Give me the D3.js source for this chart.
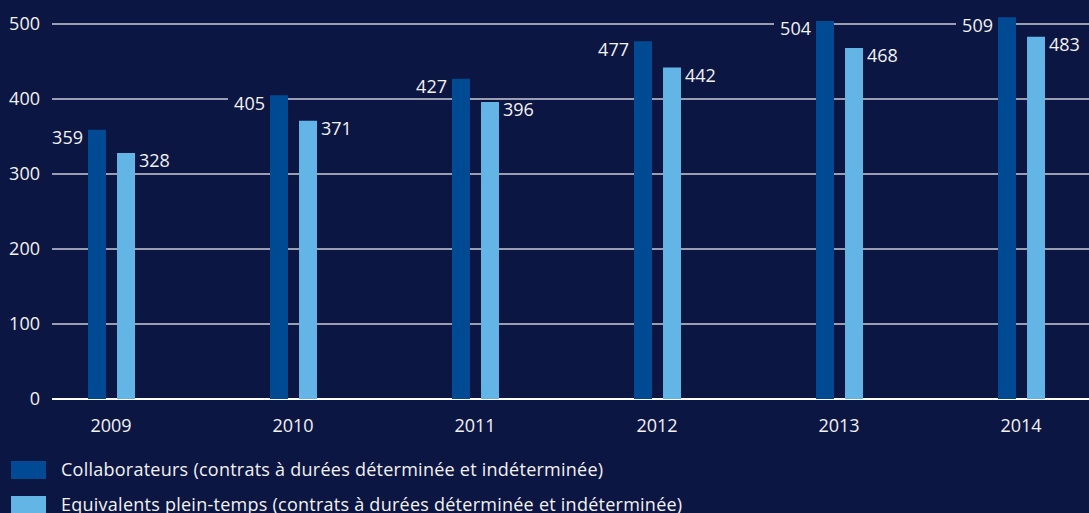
<!DOCTYPE html>
<html>
<head>
<meta charset="utf-8">
<script src="https://cdn.jsdelivr.net/npm/d3@7"></script>
<style>
  body { margin: 0; background: #0c1642; }
  svg { display: block; }
  text { font-family: 'Open Sans', sans-serif; fill: #f2f2f2; }
</style>
</head>
<body>
<script>
var years = ['2009', '2010', '2011', '2012', '2013', '2014'];
var collaborateurs = [359, 405, 427, 477, 504, 509];
var equivalents = [328, 371, 396, 442, 468, 483];
var seriesNames = [
  'Collaborateurs (contrats à durées déterminée et indéterminée)',
  'Equivalents plein-temps (contrats à durées déterminée et indéterminée)'
];
var yTicks = [0, 100, 200, 300, 400, 500];

var w = 1089;
var h = 513;
var bg = '#0c1642';
var colours = ['#004a94', '#62b5e5'];
var fs = '18px';

var svg = d3.select('body')
  .append('svg')
  .attr('width', w)
  .attr('height', h);

var xScale = d3.scaleBand()
  .domain(years)
  .range([20, 1112]);

var xSub = d3.scaleBand()
  .domain([0, 1])
  .range([-23, 24])
  .paddingInner(0.38);

var yScale = d3.scaleLinear()
  .domain([0, 500])
  .range([399, 24]);

// grid lines
svg.selectAll('line.grid')
  .data(yTicks)
  .enter()
  .append('line')
  .attr('class', 'grid')
  .attr('x1', 52)
  .attr('x2', w)
  .attr('y1', function(d){ return yScale(d); })
  .attr('y2', function(d){ return yScale(d); })
  .attr('stroke', function(d){ return d === 0 ? '#ffffff' : '#c9ccd8'; })
  .attr('stroke-width', function(d){ return d === 0 ? 2 : 1.3; });

// y tick labels
svg.selectAll('text.ytick')
  .data(yTicks)
  .enter()
  .append('text')
  .attr('class', 'ytick')
  .attr('x', 40)
  .attr('y', function(d){ return yScale(d); })
  .attr('dy', '0.36em')
  .attr('text-anchor', 'end')
  .attr('font-size', fs)
  .text(function(d){ return d; });

var rows = years.map(function(y, i){
  return [
    {year: y, s: 0, value: collaborateurs[i]},
    {year: y, s: 1, value: equivalents[i]}
  ];
});

var groups = svg.selectAll('g.year')
  .data(rows)
  .enter()
  .append('g')
  .attr('class', 'year')
  .attr('transform', function(d){
    return 'translate(' + (xScale(d[0].year) + xScale.bandwidth() / 2) + ',0)';
  });

// value label backgrounds (hide the grid behind the numbers)
groups.selectAll('rect.labbg')
  .data(function(d){ return d; })
  .enter()
  .append('rect')
  .attr('class', 'labbg')
  .attr('x', function(d){ return d.s === 0 ? xSub(0) - 42 : xSub(1) + xSub.bandwidth(); })
  .attr('y', function(d){ return yScale(d.value) - 2; })
  .attr('width', 42)
  .attr('height', 20)
  .attr('fill', bg);

groups.selectAll('rect.bar')
  .data(function(d){ return d; })
  .enter()
  .append('rect')
  .attr('class', 'bar')
  .attr('x', function(d){ return xSub(d.s); })
  .attr('y', function(d){ return yScale(d.value); })
  .attr('width', xSub.bandwidth())
  .attr('height', function(d){ return yScale(0) - yScale(d.value); })
  .attr('fill', function(d){ return colours[d.s]; });

groups.selectAll('text.val')
  .data(function(d){ return d; })
  .enter()
  .append('text')
  .attr('class', 'val')
  .attr('x', function(d){ return d.s === 0 ? xSub(0) - 5 : xSub(1) + xSub.bandwidth() + 4; })
  .attr('y', function(d){ return yScale(d.value) + 8; })
  .attr('dy', '0.36em')
  .attr('text-anchor', function(d){ return d.s === 0 ? 'end' : 'start'; })
  .attr('font-size', fs)
  .text(function(d){ return d.value; });

// x axis labels
svg.selectAll('text.xtick')
  .data(years)
  .enter()
  .append('text')
  .attr('class', 'xtick')
  .attr('x', function(d){ return xScale(d) + xScale.bandwidth() / 2; })
  .attr('y', 426)
  .attr('dy', '0.36em')
  .attr('text-anchor', 'middle')
  .attr('font-size', fs)
  .text(function(d){ return d; });

// legend
var legend = svg.selectAll('g.legend')
  .data(seriesNames)
  .enter()
  .append('g')
  .attr('class', 'legend')
  .attr('transform', function(d, i){ return 'translate(11,' + (461 + i * 35) + ')'; });

legend.append('rect')
  .attr('width', 35)
  .attr('height', 18)
  .attr('fill', function(d, i){ return colours[i]; });

legend.append('text')
  .attr('x', 50)
  .attr('y', 9)
  .attr('dy', '0.36em')
  .attr('font-size', fs)
  .attr('letter-spacing', '0.25px')
  .text(function(d){ return d; });
</script>
</body>
</html>
